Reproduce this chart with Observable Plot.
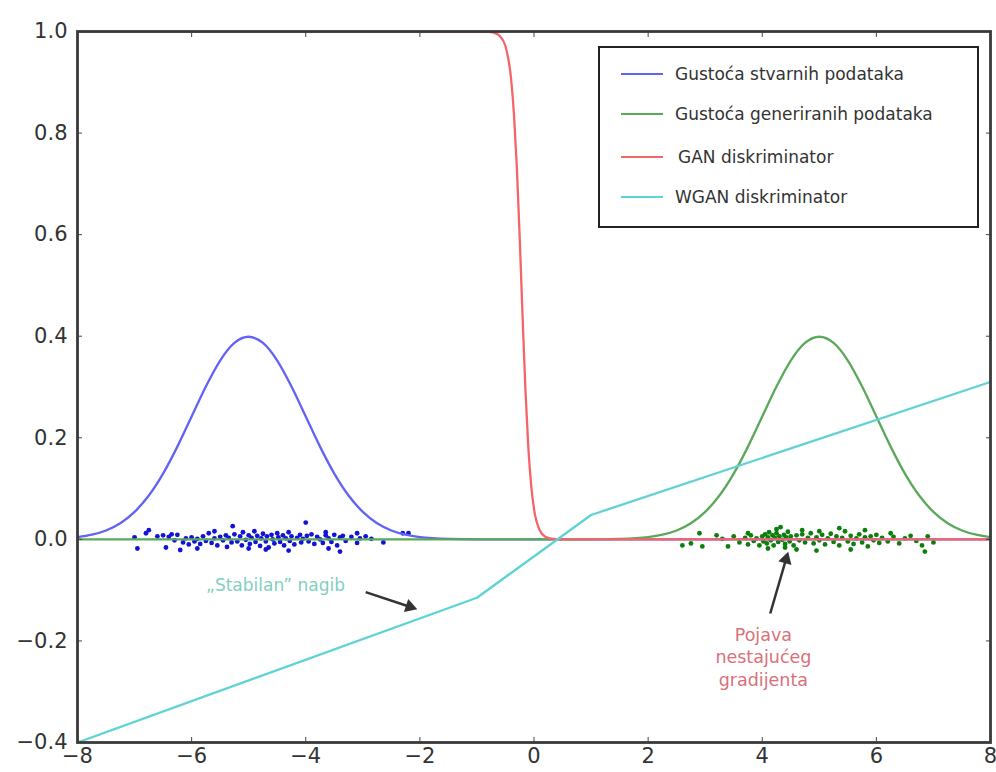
<!DOCTYPE html>
<html>
<head>
<meta charset="utf-8">
<script src="https://cdn.jsdelivr.net/npm/d3@7"></script>
<script src="https://cdn.jsdelivr.net/npm/@observablehq/plot@0.6"></script>
<style>
  html, body { margin: 0; padding: 0; background: #fff; }
  #wrap { position: relative; width: 996px; height: 772px; }
  #legend {
    position: absolute; left: 598px; top: 46px; width: 377px; height: 178px;
    border: 2px solid #222; background: #fff; box-sizing: content-box;
    font-family: "DejaVu Sans", sans-serif; font-size: 17px; color: #333;
  }
  .row { position: absolute; left: 0; height: 24px; display: flex; align-items: center; }
  .sw { width: 42px; height: 0; border-top: 2.5px solid; margin-left: 21px; margin-right: 12px; }
</style>
</head>
<body>
<div id="wrap"></div>
<script>
// ---- data ----
const xTicks = [-8, -6, -4, -2, 0, 2, 4, 6, 8];
const yTicks = [-0.4, -0.2, 0, 0.2, 0.4, 0.6, 0.8, 1.0];

const seriesNames = ["Gustoća stvarnih podataka", "Gustoća generiranih podataka", "GAN diskriminator", "WGAN diskriminator"];
const seriesColors = ["#6262f5", "#5aa85a", "#f56468", "#5fd3d3"];

const realX = [-8,-7.75,-7.5,-7.25,-7,-6.75,-6.5,-6.25,-6,-5.75,-5.5,-5.25,-5,-4.75,-4.5,-4.25,-4,-3.75,-3.5,-3.25,-3,-2.75,-2.5,-2.25,-2,-1.5,-1,0,8];
const realY = [0.0044,0.0091,0.0175,0.0317,0.054,0.0863,0.1295,0.1826,0.242,0.3011,0.3521,0.3867,0.3989,0.3867,0.3521,0.3011,0.242,0.1826,0.1295,0.0863,0.054,0.0317,0.0175,0.0091,0.0044,0.0009,0.0001,0,0];

const genX = [-8,0,1,1.5,2,2.25,2.5,2.75,3,3.25,3.5,3.75,4,4.25,4.5,4.75,5,5.25,5.5,5.75,6,6.25,6.5,6.75,7,7.25,7.5,7.75,8];
const genY = [0,0,0.0001,0.0009,0.0044,0.0091,0.0175,0.0317,0.054,0.0863,0.1295,0.1826,0.242,0.3011,0.3521,0.3867,0.3989,0.3867,0.3521,0.3011,0.242,0.1826,0.1295,0.0863,0.054,0.0317,0.0175,0.0091,0.0044];

const ganX = [-8,-0.8,-0.7,-0.6,-0.5,-0.4,-0.35,-0.3,-0.25,-0.2,-0.15,-0.1,-0.05,0,0.1,0.2,0.3,0.5,8];
const ganY = [1,0.9993,0.9975,0.991,0.971,0.905,0.835,0.731,0.593,0.438,0.294,0.182,0.107,0.06,0.018,0.005,0.0015,0,0];

const wganX = [-8,-1,1,8];
const wganY = [-0.4,-0.115,0.048,0.31];

const realPts = [[-7.0,0.004],[-6.95,-0.018],[-6.8,0.012],[-6.6,0.006],[-6.5,0.008],[-6.45,-0.016],[-6.4,0.005],[-6.35,0.01],[-6.3,-0.002],[-6.25,0.009],[-6.15,-0.006],[-6.1,0.002],[-6.05,-0.01],[-6.0,0.004],[-5.95,-0.004],[-5.9,0.001],[-5.85,-0.009],[-5.8,0.006],[-5.75,-0.003],[-5.7,0.012],[-5.65,-0.007],[-5.6,0.002],[-5.55,-0.012],[-5.5,0.005],[-5.45,-0.002],[-5.4,0.008],[-5.38,-0.015],[-5.35,0.003],[-5.3,-0.006],[-5.28,0.026],[-5.25,0.01],[-5.2,-0.004],[-5.15,0.006],[-5.12,-0.012],[-5.1,0.014],[-5.05,-0.001],[-5.0,0.008],[-4.98,-0.009],[-4.95,0.003],[-4.9,0.016],[-4.88,-0.005],[-4.85,0.007],[-4.8,-0.013],[-4.78,0.002],[-4.75,0.011],[-4.7,-0.004],[-4.68,0.006],[-4.65,-0.016],[-4.6,0.009],[-4.58,0.0],[-4.55,-0.008],[-4.5,0.012],[-4.48,0.004],[-4.45,-0.005],[-4.4,0.008],[-4.38,-0.012],[-4.35,0.002],[-4.3,0.014],[-4.28,-0.003],[-4.25,0.006],[-4.2,-0.01],[-4.15,0.003],[-4.1,0.009],[-4.08,-0.006],[-4.05,0.001],[-4.0,0.033],[-3.98,0.007],[-3.95,-0.004],[-3.9,0.01],[-3.85,-0.009],[-3.8,0.005],[-3.75,0.0],[-3.7,-0.007],[-3.65,0.008],[-3.6,0.002],[-3.55,-0.005],[-3.5,0.009],[-3.45,-0.012],[-3.4,0.004],[-3.35,0.007],[-3.3,-0.003],[-3.2,0.005],[-3.1,-0.007],[-3.05,0.002],[-2.95,0.006],[-2.85,0.001],[-2.64,-0.006],[-2.3,0.012],[-2.2,0.012],[-6.2,-0.021],[-5.6,0.016],[-4.7,-0.02],[-4.3,-0.022],[-3.6,-0.018],[-3.4,-0.024],[-5.9,-0.018],[-5.0,-0.018],[-3.1,0.012],[-3.65,0.014],[-6.75,0.018]];

const genPts = [[2.6,-0.012],[2.75,-0.008],[2.9,0.012],[3.3,0.001],[3.4,-0.014],[3.5,0.006],[3.6,-0.006],[3.7,0.003],[3.75,-0.01],[3.8,0.008],[3.85,-0.003],[3.9,0.002],[3.95,-0.012],[4.0,0.006],[4.02,-0.004],[4.05,0.01],[4.08,-0.008],[4.1,0.004],[4.12,0.014],[4.15,-0.002],[4.18,0.008],[4.2,-0.012],[4.22,0.003],[4.25,0.012],[4.28,-0.005],[4.3,0.006],[4.32,0.024],[4.35,-0.001],[4.38,0.009],[4.4,-0.009],[4.42,0.004],[4.45,0.015],[4.48,-0.004],[4.5,0.006],[4.55,-0.012],[4.6,0.008],[4.65,-0.002],[4.7,0.01],[4.75,-0.006],[4.8,0.003],[4.85,0.012],[4.9,-0.008],[4.95,0.004],[5.0,-0.002],[5.05,0.009],[5.1,-0.01],[5.15,0.002],[5.2,0.011],[5.25,-0.005],[5.3,0.006],[5.35,-0.012],[5.4,0.003],[5.45,0.016],[5.5,-0.004],[5.55,0.007],[5.6,-0.009],[5.65,0.002],[5.7,0.01],[5.75,-0.006],[5.8,0.004],[5.85,-0.014],[5.9,0.006],[5.95,-0.002],[6.0,0.009],[6.05,-0.007],[6.1,0.003],[6.2,-0.004],[6.3,0.005],[6.4,-0.008],[6.5,0.002],[6.6,0.007],[6.7,-0.003],[6.8,-0.012],[6.85,-0.024],[6.9,0.006],[7.0,-0.006],[4.1,-0.018],[4.6,-0.02],[4.95,-0.022],[5.35,0.022],[5.55,-0.02],[4.25,0.02],[3.2,0.008],[2.95,-0.014],[5.8,0.018],[6.25,0.012],[4.7,0.018],[5.0,0.016],[4.4,-0.016],[3.75,0.012]];

// annotations: text labels and arrows (data units)
const noteTexts = ["„Stabilan” nagib", "Pojava\nnestajućeg\ngradijenta"];
const noteX = [-4.53, 4.02];
const noteY = [-0.087, -0.23];
const noteColors = ["#80cfc2", "#d9707a"];
const noteSizes = [17, 17.5];
const arrowX1 = [-2.95, 4.14];
const arrowY1 = [-0.104, -0.146];
const arrowX2 = [-2.06, 4.45];
const arrowY2 = [-0.137, -0.026];

// ---- build ----
const W = 996, H = 772, mL = 77, mR = 6, mT = 31, mB = 30;
const kx = (W - mL - mR) / 16, ky = (H - mT - mB) / 1.4;

const lines = [
  ...realX.map((x, i) => ({x, y: realY[i], s: 0})),
  ...genX.map((x, i) => ({x, y: genY[i], s: 1})),
  ...ganX.map((x, i) => ({x, y: ganY[i], s: 2})),
  ...wganX.map((x, i) => ({x, y: wganY[i], s: 3}))
];
const pts = [
  ...realPts.map(([x, y]) => ({x, y, c: "#1212d8"})),
  ...genPts.map(([x, y]) => ({x, y, c: "#0c7e0c"}))
];
const notes = noteTexts.map((t, i) => ({t, x: noteX[i], y: noteY[i], c: noteColors[i], fs: noteSizes[i]}));
const arrows = arrowX1.map((x1, i) => {
  const dxp = (arrowX2[i] - x1) * kx, dyp = -(arrowY2[i] - arrowY1[i]) * ky;
  const len = Math.hypot(dxp, dyp);
  const back = 7 / len;
  return {
    x1, y1: arrowY1[i], x2: arrowX2[i], y2: arrowY2[i],
    xh: arrowX2[i] - (arrowX2[i] - x1) * back,
    yh: arrowY2[i] - (arrowY2[i] - arrowY1[i]) * back,
    rot: Math.atan2(dxp, -dyp) * 180 / Math.PI
  };
});

const fmtY = d3.format(".1f");
const fmtX = d3.format("d");

const chart = Plot.plot({
  width: W, height: H,
  marginLeft: mL, marginRight: mR, marginTop: mT, marginBottom: mB,
  style: {fontFamily: "'DejaVu Sans', sans-serif", background: "#fff", color: "#333"},
  x: {domain: [-8, 8]},
  y: {domain: [-0.4, 1.0]},
  marks: [
    Plot.dot(pts, {x: "x", y: "y", r: 2.4, fill: "c", stroke: null}),
    ...[0, 1, 2, 3].map(s => Plot.line(lines.filter(d => d.s === s), {
      x: "x", y: "y", stroke: seriesColors[s], strokeWidth: 2.3, curve: s === 3 ? "linear" : "monotone-x", clip: true
    })),
    Plot.link(arrows, {x1: "x1", y1: "y1", x2: "xh", y2: "yh", stroke: "#333", strokeWidth: 2.5}),
    Plot.dot(arrows, {x: "xh", y: "yh", symbol: "triangle2", r: 6.5, fill: "#333", stroke: null, rotate: "rot"}),
    ...notes.map(n => Plot.text([n], {x: "x", y: "y", text: "t", fill: "c", fontSize: n.fs, lineHeight: 1.3})),
    Plot.axisX(xTicks, {anchor: "bottom", tickSize: 0, tickPadding: 6, tickFormat: fmtX, fontSize: 21, fill: "#333"}),
    Plot.axisY(yTicks, {anchor: "left", tickSize: 0, tickPadding: 10, tickFormat: fmtY, fontSize: 21, fill: "#333"}),
    Plot.axisX(xTicks, {anchor: "bottom", tickSize: -5, tickFormat: () => "", stroke: "#444"}),
    Plot.axisX(xTicks, {anchor: "top", tickSize: -5, tickFormat: () => "", stroke: "#444"}),
    Plot.axisY(yTicks, {anchor: "left", tickSize: -5, tickFormat: () => "", stroke: "#444"}),
    Plot.axisY(yTicks, {anchor: "right", tickSize: -5, tickFormat: () => "", stroke: "#444"}),
    Plot.frame({stroke: "#3a3a3a", strokeWidth: 2.8})
  ]
});

const wrap = document.getElementById("wrap");
wrap.appendChild(chart);

const legend = document.createElement("div");
legend.id = "legend";
const rowTops = [14, 54, 97, 137];
seriesNames.forEach((name, i) => {
  const row = document.createElement("div");
  row.className = "row";
  row.style.top = rowTops[i] + "px";
  const sw = document.createElement("span");
  sw.className = "sw";
  sw.style.borderTopColor = seriesColors[i];
  const tx = document.createElement("span");
  tx.textContent = name;
  if (i === 2) tx.style.marginLeft = "3px";
  row.appendChild(sw); row.appendChild(tx);
  legend.appendChild(row);
});
wrap.appendChild(legend);
</script>
</body>
</html>
